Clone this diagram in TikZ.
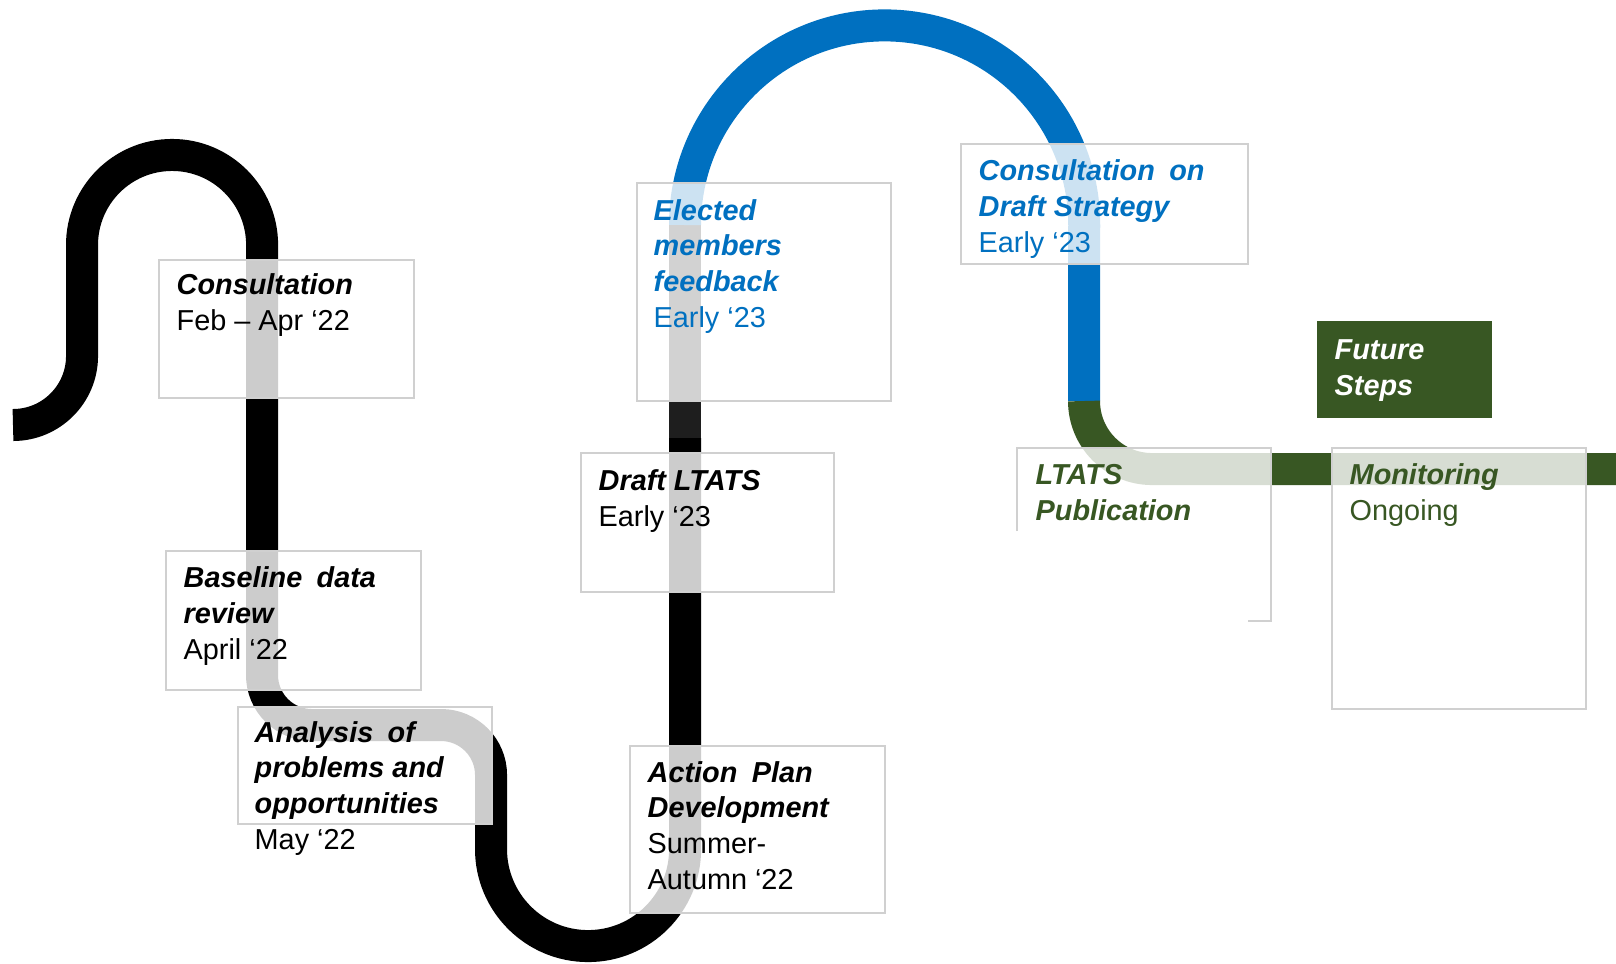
\documentclass[tikz,border=0pt]{standalone}
\usepackage{fontspec}
\setmainfont{Liberation Sans}
\usepackage{tikz}
\definecolor{roadblue}{HTML}{0070C0}
\definecolor{roadgreen}{HTML}{385723}
\definecolor{roaddark}{HTML}{1E1E1E}
\definecolor{boxgray}{HTML}{D0D0D0}
\newcommand{\stagename}[1]{\textbf{\textit{#1}}}

\begin{document}
\begin{tikzpicture}[x=0.01cm, y=0.01cm]
\tikzstyle{road}=[line width=9.1pt]
\tikzstyle{stepbox}=[draw=boxgray, line width=0.4pt, fill=white, fill opacity=0.8]
\tikzstyle{steptext}=[anchor=base west, align=left, inner sep=0pt, font=\fontsize{8.2}{10.1}\selectfont]
\useasboundingbox (0,0) rectangle (1616,-963);
\draw [road,black] (13,-425) arc (270:360:0.69cm) -- (82,-245) arc (180:0:0.9cm) -- (262,-675) arc (180:270:0.5cm) -- (441,-725) arc (90:0:0.5cm) -- (491,-849) arc (180:360:0.97cm) -- (685,-438);
\draw [road,roaddark] (685,-438) -- (685,-225);
\draw [road,roadblue] (685,-225) arc (180:0:1.995cm) -- (1084,-401);
\draw [road,roadgreen] (1084,-401) arc (180:270:0.68cm) -- (1616,-469);
\draw [stepbox] (159,-260) rectangle (414,-398);
\draw [stepbox] (166,-551) rectangle (421,-690);
\draw [stepbox] (238,-707) rectangle (492,-824);
\draw [stepbox] (630,-746) rectangle (885,-913);
\draw [stepbox] (581,-453) rectangle (834,-592);
\draw [stepbox] (637,-183) rectangle (891,-401);
\draw [stepbox] (961,-144) rectangle (1248,-264);
\fill [white, fill opacity=0.8] (1017,-448) rectangle (1271,-621);
\draw [boxgray, line width=0.4pt] (1017,-531) -- (1017,-448) -- (1271,-448) -- (1271,-621) -- (1248,-621);
\draw [stepbox] (1332,-448) rectangle (1586,-709);
\fill [roadgreen] (1317,-321) rectangle (1492,-418);
\node [steptext] (consult) at (176,-330) {\stagename{Consultation}\\Feb – Apr ‘22};
\node [steptext] (baseline) at (183,-659) {\stagename{Baseline\hspace{.5em}data}\\\stagename{review}\\April ‘22};
\node [steptext] (analysis) at (254,-849) {\stagename{Analysis\hspace{.5em}of}\\\stagename{problems and}\\\stagename{opportunities}\\May ‘22};
\node [steptext] (action) at (647,-889) {\stagename{Action\hspace{.5em}Plan}\\\stagename{Development}\\Summer-\\Autumn ‘22};
\node [steptext] (draft) at (598,-526) {\stagename{Draft LTATS}\\Early ‘23};
\node [steptext, roadblue] (elected) at (653,-327) {\stagename{Elected}\\\stagename{members}\\\stagename{feedback}\\Early ‘23};
\node [steptext, roadblue] (consdraft) at (978,-252) {\stagename{Consultation\hspace{.5em}on}\\\stagename{Draft Strategy}\\Early ‘23};
\node [steptext, white] (future) at (1334,-395) {\stagename{Future}\\\stagename{Steps}};
\node [steptext, roadgreen] (publication) at (1035,-520) {\stagename{LTATS}\\\stagename{Publication}};
\node [steptext, roadgreen] (monitoring) at (1349,-520) {\stagename{Monitoring}\\Ongoing};
\end{tikzpicture}
\end{document}
